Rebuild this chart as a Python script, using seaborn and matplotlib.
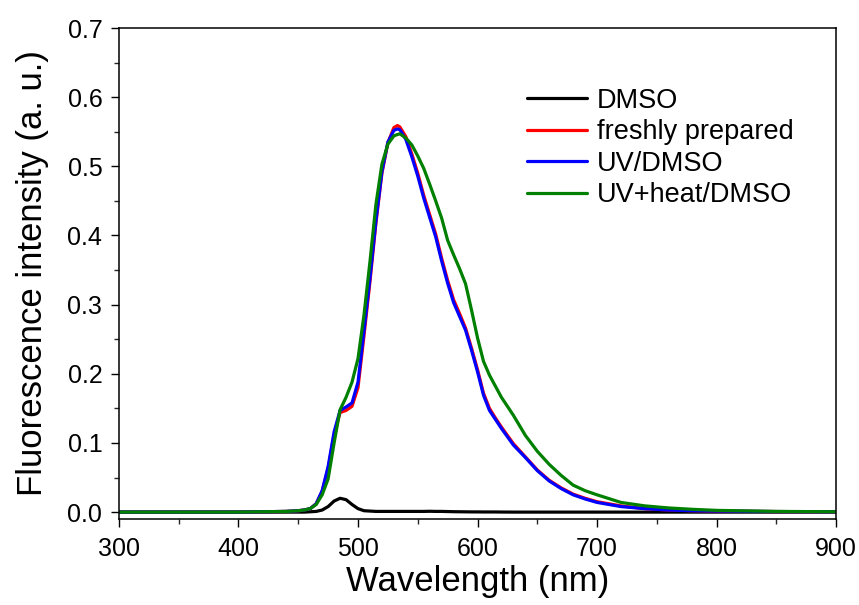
import matplotlib
matplotlib.use("Agg")
import matplotlib.pyplot as plt
import numpy as np
import pandas as pd
import seaborn as sns
from matplotlib.ticker import MultipleLocator

# wavelength grid (nm) and spectra
wavelength = [300, 400, 440, 450, 455, 460, 465, 470, 475, 480, 485, 490, 495,
              500, 505, 510, 515, 520, 525, 530, 533, 535, 540, 545, 550, 555,
              560, 565, 570, 575, 580, 585, 590, 595, 600, 605, 610, 615, 620,
              630, 640, 650, 660, 670, 680, 690, 700, 720, 740, 760, 780, 800,
              850, 900]

dmso = [0.0, 0.0, 0.0, 0.0, 0.0, 0.0005, 0.001, 0.003, 0.008, 0.016, 0.020,
        0.018, 0.011, 0.005, 0.002, 0.0015, 0.001, 0.001, 0.001, 0.001, 0.001,
        0.001, 0.001, 0.001, 0.001, 0.001, 0.0012, 0.001, 0.001, 0.0008,
        0.0006, 0.0005, 0.0004, 0.0003, 0.0003, 0.0002, 0.0002, 0.0002,
        0.0001, 0.0, 0.0, 0.0, 0.0, 0.0, 0.0, 0.0, 0.0, 0.0, 0.0, 0.0, 0.0,
        0.0, 0.0, 0.0]

fresh = [0.0, 0.0, 0.001, 0.002, 0.003, 0.005, 0.012, 0.030, 0.063, 0.112,
         0.144, 0.147, 0.153, 0.180, 0.255, 0.333, 0.418, 0.490, 0.534, 0.556,
         0.559, 0.557, 0.543, 0.518, 0.490, 0.458, 0.430, 0.402, 0.367, 0.335,
         0.307, 0.287, 0.266, 0.237, 0.206, 0.172, 0.150, 0.136, 0.123, 0.099,
         0.080, 0.061, 0.046, 0.035, 0.026, 0.020, 0.015, 0.009, 0.005, 0.003,
         0.002, 0.0015, 0.0008, 0.0005]

uv = [0.0, 0.0, 0.001, 0.002, 0.003, 0.005, 0.012, 0.031, 0.066, 0.116, 0.147,
      0.152, 0.158, 0.188, 0.262, 0.338, 0.421, 0.492, 0.535, 0.552, 0.554,
      0.553, 0.539, 0.514, 0.486, 0.454, 0.426, 0.398, 0.363, 0.331, 0.303,
      0.283, 0.263, 0.234, 0.203, 0.169, 0.147, 0.134, 0.121, 0.097, 0.079,
      0.060, 0.045, 0.034, 0.025, 0.019, 0.014, 0.008, 0.005, 0.003, 0.002,
      0.0015, 0.0008, 0.0005]

uv_heat = [0.0, 0.0, 0.001, 0.002, 0.003, 0.005, 0.011, 0.025, 0.048, 0.100,
           0.148, 0.166, 0.188, 0.222, 0.285, 0.362, 0.445, 0.503, 0.532,
           0.544, 0.546, 0.547, 0.541, 0.531, 0.515, 0.497, 0.474, 0.450,
           0.425, 0.393, 0.372, 0.352, 0.330, 0.292, 0.252, 0.218, 0.198,
           0.182, 0.166, 0.140, 0.111, 0.088, 0.069, 0.053, 0.039, 0.031,
           0.025, 0.014, 0.009, 0.006, 0.004, 0.0025, 0.001, 0.0005]

labels = ["DMSO", "freshly prepared", "UV/DMSO", "UV+heat/DMSO"]
colors = ["#000000", "#ff0000", "#0000ff", "#008000"]

frames = []
for name, vals in zip(labels, [dmso, fresh, uv, uv_heat]):
    frames.append(pd.DataFrame({"wavelength": wavelength, "intensity": vals,
                                "sample": name}))
df = pd.concat(frames, ignore_index=True)

sns.set_theme(style="ticks")
plt.rcParams["font.family"] = ["Liberation Sans", "DejaVu Sans"]
plt.rcParams["text.color"] = "black"
plt.rcParams["axes.labelcolor"] = "black"

fig, ax = plt.subplots(figsize=(8.59, 6.05), dpi=100)
fig.subplots_adjust(left=0.1385, right=0.9733, top=0.9537, bottom=0.142)

sns.lineplot(data=df, x="wavelength", y="intensity", hue="sample",
             hue_order=labels, palette=colors, estimator=None, sort=False,
             linewidth=2.3, ax=ax)

ax.set_xlim(300, 900)
ax.set_ylim(-0.0101, 0.7)
ax.xaxis.set_major_locator(MultipleLocator(100))
ax.xaxis.set_minor_locator(MultipleLocator(50))
ax.yaxis.set_major_locator(MultipleLocator(0.1))
ax.yaxis.set_minor_locator(MultipleLocator(0.05))
ax.yaxis.set_major_formatter(plt.FormatStrFormatter("%.1f"))
ax.tick_params(which="major", direction="out", length=6, width=1.0,
               labelsize=18, colors="black")
ax.tick_params(axis="x", which="major", pad=7)
ax.tick_params(axis="y", which="major", pad=6)
ax.tick_params(which="minor", direction="out", length=3.5, width=1.0)
for sp in ax.spines.values():
    sp.set_visible(True)
    sp.set_linewidth(1.1)
    sp.set_color("black")

ax.set_xlabel("Wavelength (nm)", fontsize=25, labelpad=3)
ax.set_ylabel("Fluorescence intensity (a. u.)", fontsize=25, labelpad=13)

ax.legend(loc="upper left", bbox_to_anchor=(0.569, 0.878), frameon=False,
          fontsize=19.5, borderpad=0, borderaxespad=0, handlelength=2.2,
          handletextpad=0.37, labelspacing=0.2)

fig.savefig("out.png", dpi=100)
